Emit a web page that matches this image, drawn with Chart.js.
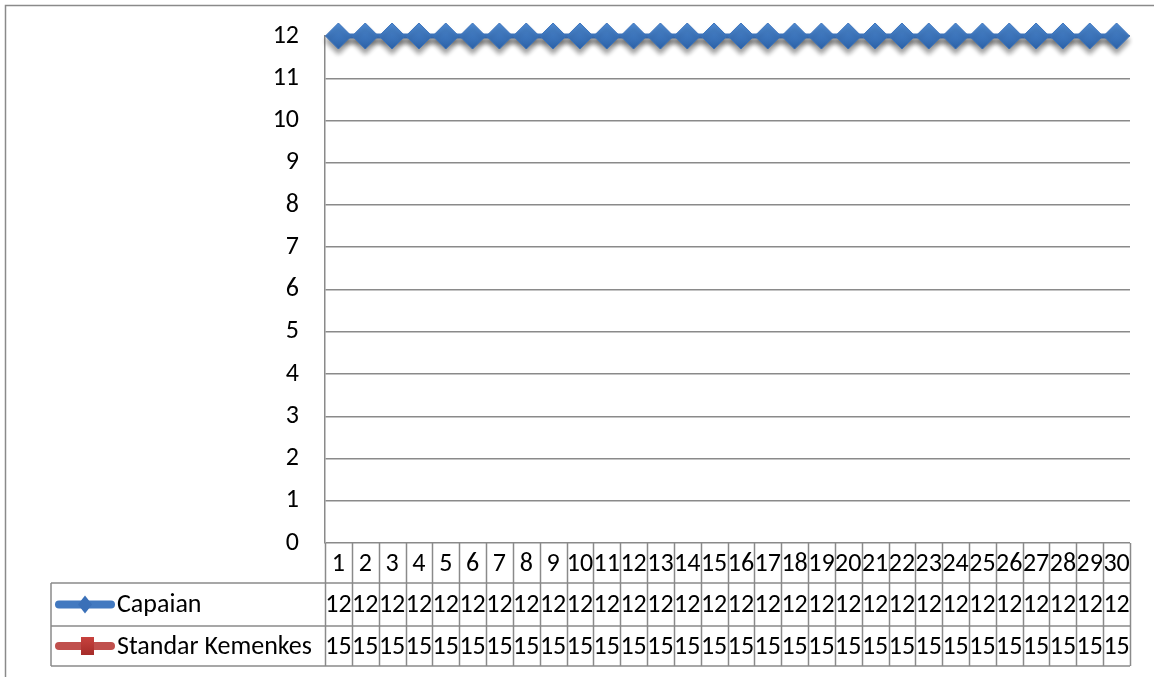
<!DOCTYPE html>
<html>
<head>
<meta charset="utf-8">
<script src="https://cdn.jsdelivr.net/npm/chart.js@4/dist/chart.umd.min.js"></script>
<style>
  html, body { margin: 0; padding: 0; background: #ffffff; }
  #wrap { width: 1154px; height: 677px; position: relative; }
</style>
</head>
<body>
<div id="wrap"><canvas id="c" width="1154" height="677"></canvas></div>
<script>
// Days of the month (category axis)
const days = ['1','2','3','4','5','6','7','8','9','10','11','12','13','14','15',
              '16','17','18','19','20','21','22','23','24','25','26','27','28','29','30'];
// Achievement per day
const capaian = [12,12,12,12,12,12,12,12,12,12,12,12,12,12,12,
                 12,12,12,12,12,12,12,12,12,12,12,12,12,12,12];
// Ministry of Health standard per day
const standarKemenkes = [15,15,15,15,15,15,15,15,15,15,15,15,15,15,15,
                         15,15,15,15,15,15,15,15,15,15,15,15,15,15,15];
const seriesNames = ['Capaian', 'Standar Kemenkes'];
// Value axis range
const yMin = 0;
const yMax = 12;
const yStep = 1;

const FONT = 'Carlito, Lato, "Liberation Sans", sans-serif';
const FONT_SIZE = 26;
const GRID = '#8a8a8a';
const BLUE = '#4279c0';
const RED = '#c0504d';

// Soft drop shadow under the first series' line and markers
const shadowPlugin = {
  id: 'seriesShadow',
  beforeDatasetDraw(chart, args) {
    if (args.index !== 0) return;
    const ctx = chart.ctx;
    ctx.save();
    ctx.shadowColor = 'rgba(0,0,0,0.4)';
    ctx.shadowBlur = 5;
    ctx.shadowOffsetY = 5;
  },
  afterDatasetDraw(chart, args) {
    if (args.index !== 0) return;
    chart.ctx.restore();
  }
};

// Outer chart frame
const framePlugin = {
  id: 'outerFrame',
  beforeDraw(chart) {
    const ctx = chart.ctx;
    ctx.save();
    ctx.strokeStyle = GRID;
    ctx.lineWidth = 1.5;
    ctx.strokeRect(5.5, 5.5, 1200, 700);
    ctx.restore();
  }
};

// Data table under the plot: category row plus one row per series
const tablePlugin = {
  id: 'dataTable',
  afterDraw(chart) {
    const ctx = chart.ctx;
    const xs = chart.scales.x;
    const area = chart.chartArea;
    const colW = xs.getPixelForValue(1) - xs.getPixelForValue(0);
    const legendLeft = 51;
    const rows = [area.bottom, area.bottom + 40, area.bottom + 83, area.bottom + 123];

    ctx.save();
    ctx.strokeStyle = GRID;
    ctx.lineWidth = 1.5;
    ctx.beginPath();
    // horizontal rules
    ctx.moveTo(legendLeft, rows[1]); ctx.lineTo(area.right, rows[1]);
    ctx.moveTo(legendLeft, rows[2]); ctx.lineTo(area.right, rows[2]);
    ctx.moveTo(legendLeft, rows[3]); ctx.lineTo(area.right, rows[3]);
    // legend column left edge
    ctx.moveTo(legendLeft, rows[1]); ctx.lineTo(legendLeft, rows[3]);
    // column separators
    for (let i = 0; i <= days.length; i++) {
      const x = Math.round(xs.getPixelForValue(i) - colW / 2) + 0.5;
      ctx.moveTo(x, rows[0]); ctx.lineTo(x, rows[3]);
    }
    ctx.stroke();

    ctx.fillStyle = '#000';
    ctx.font = FONT_SIZE + 'px ' + FONT;
    ctx.textAlign = 'center';
    ctx.textBaseline = 'middle';
    const seriesData = [capaian, standarKemenkes];
    days.forEach((d, i) => {
      const cx = xs.getPixelForValue(i);
      ctx.fillText(d, cx, (rows[0] + rows[1]) / 2 + 1);
      seriesData.forEach((arr, s) => {
        ctx.fillText(String(arr[i]), cx, (rows[s + 1] + rows[s + 2]) / 2 + 1);
      });
    });

    // legend keys
    chart.data.datasets.forEach((ds, s) => {
      const cy = (rows[s + 1] + rows[s + 2]) / 2;
      ctx.strokeStyle = ds.borderColor;
      ctx.lineWidth = 8;
      ctx.lineCap = 'round';
      ctx.beginPath();
      ctx.moveTo(59, cy); ctx.lineTo(111, cy);
      ctx.stroke();
      if (s === 0) {
        ctx.fillStyle = '#3a70b8';
        ctx.beginPath();
        ctx.moveTo(85, cy - 9); ctx.lineTo(92, cy); ctx.lineTo(85, cy + 9); ctx.lineTo(78, cy);
        ctx.closePath();
        ctx.fill();
      } else {
        const g = ctx.createLinearGradient(0, cy - 9, 0, cy + 9);
        g.addColorStop(0, '#c8423e');
        g.addColorStop(1, '#a52c29');
        ctx.fillStyle = g;
        ctx.fillRect(81, cy - 9, 13, 18);
      }
      ctx.fillStyle = '#000';
      ctx.textAlign = 'left';
      ctx.fillText(ds.label, 117, cy + 1);
    });
    ctx.restore();
  }
};

function diamondFill(context) {
  const chart = context.chart;
  const ys = chart.scales && chart.scales.y;
  const v = context.parsed ? context.parsed.y : NaN;
  const y = ys ? ys.getPixelForValue(v) : NaN;
  if (!Number.isFinite(y)) return '#3c76c0';
  const g = chart.ctx.createLinearGradient(0, y - 13, 0, y + 13);
  g.addColorStop(0, '#4f8bd3');
  g.addColorStop(1, '#2c62a8');
  return g;
}

new Chart(document.getElementById('c'), {
  type: 'line',
  data: {
    labels: days,
    datasets: [
      {
        label: seriesNames[0],
        data: capaian,
        borderColor: BLUE,
        borderWidth: 5,
        pointStyle: 'rectRot',
        pointRadius: 13,
        pointBackgroundColor: diamondFill,
        pointBorderColor: '#3a72bb',
        pointBorderWidth: 1,
        tension: 0,
        clip: 30
      },
      {
        label: seriesNames[1],
        data: standarKemenkes,
        borderColor: RED,
        borderWidth: 5,
        pointStyle: 'rect',
        pointRadius: 9,
        pointBackgroundColor: '#b93a36',
        pointBorderColor: '#b93a36',
        tension: 0,
        clip: 0
      }
    ]
  },
  options: {
    responsive: false,
    devicePixelRatio: 1,
    animation: false,
    events: [],
    layout: { padding: { top: 36, right: 24, bottom: 134, left: 0 } },
    plugins: {
      legend: { display: false },
      tooltip: { enabled: false },
      title: { display: false }
    },
    scales: {
      x: {
        type: 'category',
        display: false,
        offset: true
      },
      y: {
        min: yMin,
        max: yMax,
        afterFit(scale) {
          scale.width = 325;
          scale.paddingTop = 0;
          scale.paddingBottom = 0;
        },
        ticks: {
          stepSize: yStep,
          color: '#000',
          padding: 26,
          font: { family: FONT, size: FONT_SIZE }
        },
        grid: { color: GRID, lineWidth: 1.5, drawTicks: false },
        border: { display: true, color: GRID, width: 1.5 }
      }
    }
  },
  plugins: [framePlugin, shadowPlugin, tablePlugin]
});
</script>
</body>
</html>
